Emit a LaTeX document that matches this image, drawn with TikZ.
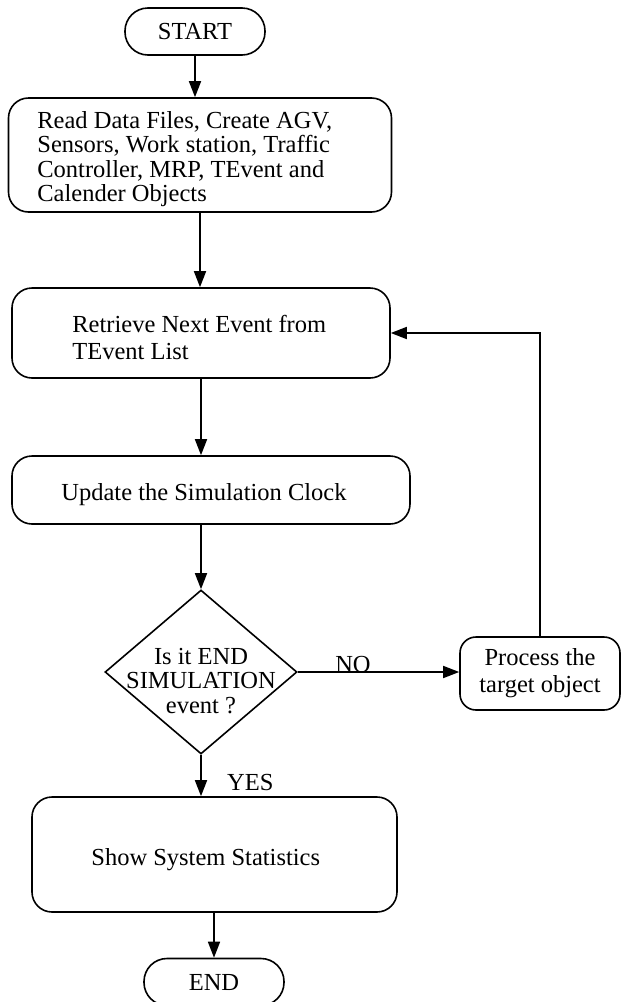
\documentclass[tikz,border=0pt]{standalone}
\usepackage{fontspec}
\setmainfont{Liberation Serif}
\usetikzlibrary{arrows.meta,shapes.geometric}

\tikzset{
  flow/.style={line width=1.6pt, -{Triangle[length=16pt,width=12pt]}},
  stepbox/.style={draw, line width=1.6pt, rounded corners=20pt, inner sep=0pt},
  termbox/.style={draw, line width=1.6pt, rounded corners=23pt, inner sep=0pt,
                  minimum width=140pt, minimum height=47pt},
  txt/.style={inner sep=0pt, font=\fontsize{24.5pt}{24.4pt}\selectfont, align=left},
  ctxt/.style={inner sep=0pt, font=\fontsize{24.5pt}{24.4pt}\selectfont, align=center},
}

\begin{document}
\begin{tikzpicture}[x=1pt, y=-1pt]
  \useasboundingbox (0,0) rectangle (621,1002);
  \clip (0,0) rectangle (621,1002);

  % terminators
  \node[termbox, ctxt] (start) at (195,31.5) {START};
  \node[termbox, ctxt] (stop)  at (214,982) {END};

  % process steps
  \node[stepbox, minimum width=383pt, minimum height=114pt] (init)  at (200,155) {};
  \node[txt, anchor=west] (initT) at ([xshift=29.5pt,yshift=-4pt]init.west)
    {Read Data Files, Create AGV,\\Sensors, Work station, Traffic\\Controller, MRP, TEvent and\\Calender Objects};

  \node[stepbox, minimum width=378pt, minimum height=90pt] (retr) at (201,333) {};
  \node[txt, anchor=west, font=\fontsize{24.5pt}{27pt}\selectfont] (retrT)
    at ([xshift=61pt,yshift=-4pt]retr.west)
    {Retrieve Next Event from\\TEvent List};

  \node[stepbox, minimum width=398pt, minimum height=68pt] (clock) at (211,490) {};
  \node[txt, anchor=west] (clockT) at ([xshift=50pt,yshift=-5pt]clock.west)
    {Update the Simulation Clock};

  \node[stepbox, minimum width=365pt, minimum height=115pt] (stats) at (214.5,854.5) {};
  \node[txt, anchor=west] (statsT) at ([xshift=60pt,yshift=-5pt]stats.west)
    {Show System Statistics};

  % decision
  \node[diamond, draw, line width=1.6pt, inner sep=0pt,
        minimum width=192pt, minimum height=164pt] (test) at (201,672) {};
  \node[ctxt] (testT) at (201,681) {Is it END\\SIMULATION\\event ?};

  \node[stepbox, ctxt, rounded corners=16pt, minimum width=160pt, minimum height=73pt,
        font=\fontsize{24.5pt}{27pt}\selectfont]
    (proc) at (540,673.5) {Process the\\target object};

  % connectors
  \draw[flow] (start.south) -- (start.south |- init.north);
  \draw[flow] (init.south) -- (init.south |- retr.north);
  \draw[flow] (retr.south) -- (retr.south |- clock.north);
  \draw[flow] (clock.south -| test.north) -- (test.north);
  \draw[flow] (test.east) -- (test.east -| proc.west);
  \draw[flow] (proc.north) |- (retr.east);
  \draw[flow] (test.south) -- (test.south |- stats.north);
  \draw[flow] (stats.south -| stop.north) -- (stop.north);

  % branch labels
  \node[ctxt] (no)  at (353,664) {NO};
  \node[txt, anchor=west] (yes) at (227,782) {YES};
\end{tikzpicture}
\end{document}
